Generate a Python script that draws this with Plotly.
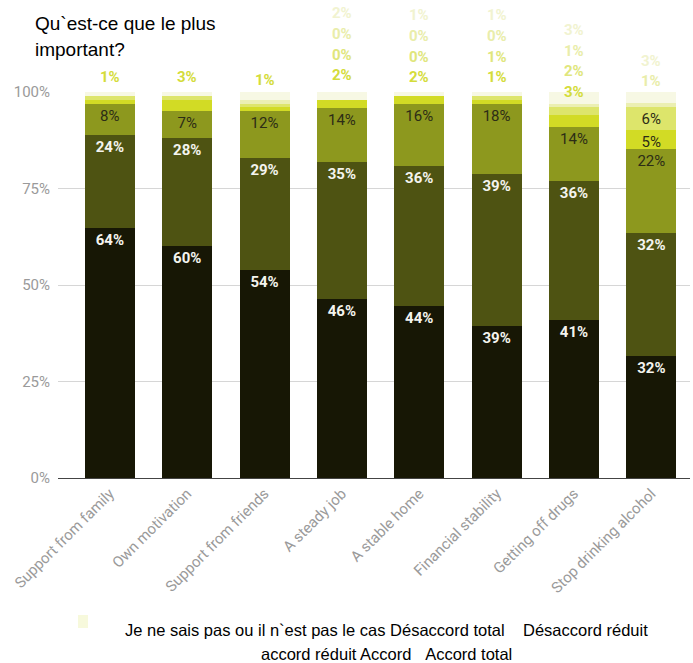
import plotly.graph_objects as go

categories = [
    "Support from family", "Own motivation", "Support from friends", "A steady job",
    "A stable home", "Financial stability", "Getting off drugs", "Stop drinking alcohol",
]
series_names = [
    "Accord total", "Accord", "accord réduit", "Désaccord réduit",
    "Désaccord total", "Il n`est pas le cas", "Je ne sais pas",
]
accord_total = [64, 60, 54, 46, 44, 39, 41, 32]
accord = [24, 28, 29, 35, 36, 39, 36, 32]
accord_reduit = [8, 7, 12, 14, 16, 18, 14, 22]
desaccord_reduit = [1, 3, 1, 2, 2, 1, 3, 5]
desaccord_total = [1, 1, 1, 0, 0, 1, 2, 6]
pas_le_cas = [0, 0, 1, 0, 0, 0, 1, 1]
ne_sais_pas = [1, 1, 2, 2, 1, 1, 3, 3]
# (category, series) pairs whose small value carries no label
unlabelled = {(c, s) for c in range(3) for s in (4, 5, 6)}

y_ticks = [0, 25, 50, 75, 100]
y_ticktext = ["0%", "25%", "50%", "75%", "100%"]

title_lines = ["Qu`est-ce que le plus", "important?"]
legend_lines = [
    "Je ne sais pas ou il n`est pas le cas Désaccord total\u00a0\u00a0\u00a0\u00a0Désaccord réduit",
    "accord réduit Accord\u00a0\u00a0\u00a0Accord total",
]

all_series = [accord_total, accord, accord_reduit, desaccord_reduit,
              desaccord_total, pas_le_cas, ne_sais_pas]
colors = ["#171705", "#4e5312", "#8d981e", "#d2db25", "#dde56b", "#ebefb2", "#f7f8e4"]
label_colors = ["#f4f4ee", "#f4f4ee", "#2c2c16", "#2c2c16", "#2c2c16", "#2c2c16", "#2c2c16"]
outside_colors = ["#d2db25", "#d2db25", "#d2db25", "#d4dc3a", "#e0e67c", "#e9edaa", "#f1f3d0"]

W, H = 693, 663
L, R, T, B = 58, 3, 92, 185
plot_w = W - L - R
plot_h = H - T - B

# vertical start (in % of the axis) and spacing of the stacked outside labels
label_start = [103.8, 103.8, 103.2, 104.3, 103.8, 103.8, 100.0, 102.8]
label_step = 5.35


def px_x(px):
    return (px - L) / plot_w


def px_y(py):
    return (H - B - py) / plot_h


fig = go.Figure()
for i, (name, vals) in enumerate(zip(series_names, all_series)):
    texts = [f"{v}%" if v >= 5 else "" for v in vals]
    fig.add_trace(go.Bar(
        name=name, x=categories, y=vals,
        marker=dict(color=colors[i], line=dict(width=0)),
        text=texts, textposition="inside", insidetextanchor="end", textangle=0,
        textfont=dict(family="Roboto", size=15, color=label_colors[i],
                      weight="bold" if i < 2 else "normal"),
        hoverinfo="skip",
    ))

# small shares are listed above each column, stacked upwards
for c in range(len(categories)):
    k = 0
    for s in range(3, len(all_series)):
        v = all_series[s][c]
        if v >= 5 or (c, s) in unlabelled:
            continue
        fig.add_annotation(
            x=categories[c], y=(label_start[c] + k * label_step) / 100,
            xref="x", yref="paper", yanchor="middle",
            text=f"{v}%", showarrow=False,
            font=dict(family="Roboto", size=15, color=outside_colors[s], weight="bold"),
        )
        k += 1

for j, line in enumerate(title_lines):
    fig.add_annotation(
        x=px_x(33), y=px_y(23 + j * 26), xref="paper", yref="paper",
        xanchor="left", yanchor="middle", text=line, showarrow=False,
        font=dict(family="Liberation Sans", size=19, color="#000000"),
    )

for j, line in enumerate(legend_lines):
    fig.add_annotation(
        x=px_x(386), y=px_y(630 + j * 24), xref="paper", yref="paper",
        xanchor="center", yanchor="middle", text=line, showarrow=False,
        font=dict(family="Liberation Sans", size=16.5, color="#000000"),
    )
fig.add_shape(type="rect", xref="paper", yref="paper",
              x0=px_x(78), x1=px_x(88), y0=px_y(628), y1=px_y(615),
              fillcolor="#f7f9dc", line=dict(width=0))

fig.update_layout(
    width=W, height=H, barmode="stack", barnorm="percent", bargap=0.354,
    margin=dict(l=L, r=R, t=T, b=B, pad=0),
    paper_bgcolor="white", plot_bgcolor="white", showlegend=False,
    uniformtext=dict(minsize=15, mode="show"),
)
fig.update_xaxes(
    type="category", range=[-0.67, 7.5], tickangle=-45,
    tickfont=dict(family="Roboto", size=15, color="#9a9a9a"),
    showline=True, linecolor="#444444", linewidth=1, showgrid=False, ticks="",
)
fig.update_yaxes(
    range=[0, 100], tickvals=y_ticks, ticktext=y_ticktext,
    tickfont=dict(family="Roboto", size=15, color="#9a9a9a"),
    gridcolor="#d6d6d6", zeroline=False, ticks="", ticklabelstandoff=7,
)

fig.write_html("out.html")
